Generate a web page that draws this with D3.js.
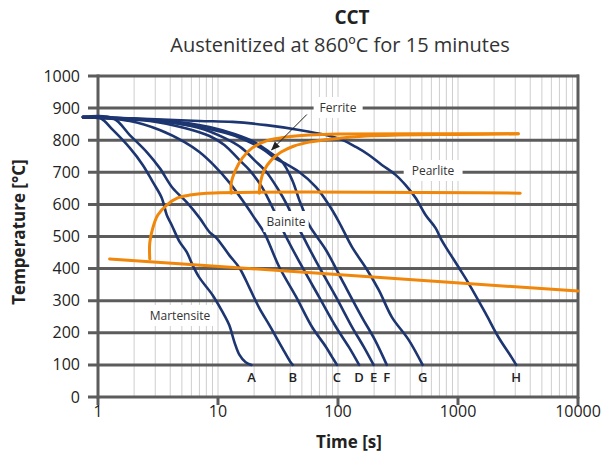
<!DOCTYPE html>
<html>
<head>
<meta charset="utf-8">
<script src="https://cdn.jsdelivr.net/npm/d3@7"></script>
<style>
  body { margin: 0; background: #fff; }
  text { font-family: "Open Sans", sans-serif; }
</style>
</head>
<body>
<svg width="602" height="459"></svg>
<script>
// cooling curves: [time s, temperature C]
const curveA = [[0.75,872],[1.04,869],[1.33,832],[1.84,776],[2.36,723],[2.86,670],[3.4,620],[3.74,567],[4.11,536],[4.79,483],[5.48,452],[6.14,411],[7.02,371],[9.0,318],[10.9,265],[12.4,224],[13.7,171],[15.1,131],[17,108],[19,100]];
const curveB = [[0.75,872],[1.33,869],[1.84,816],[2.55,763],[3.27,713],[4.19,651],[5.48,607],[7.02,558],[8.49,514],[9.72,495],[12.4,442],[15.1,402],[18.3,340],[22.1,277],[26.8,224],[34.3,153],[40,110],[42,100]];
const curveC = [[0.75,872],[1.84,860],[3.27,832],[5.27,794],[7.0,763],[9.35,720],[12.5,667],[16.6,604],[20.1,558],[24.3,511],[32.4,405],[44.8,312],[60.8,218],[79.4,156],[89.1,125],[98,100]];
const curveD = [[0.75,872],[2.7,860],[5.27,838],[8.5,813],[11.3,785],[15.1,738],[18.3,707],[23.0,657],[27.8,598],[32.4,545],[35.6,511],[50.3,405],[69.5,312],[96.2,218],[123,156],[150,100]];
const curveE = [[0.75,872],[3.27,860],[7.0,838],[11.3,807],[15.7,776],[20.1,738],[25.3,701],[31.2,651],[37.7,598],[43.1,551],[49.3,511],[66.9,417],[96.2,312],[131,218],[164,156],[198,100]];
const curveF = [[0.75,872],[3.96,860],[8.5,841],[13.7,819],[20.1,794],[26.8,763],[34.3,732],[41.5,676],[47.5,614],[52.2,576],[57.4,536],[79.4,458],[108,364],[158,249],[203,178],[255,100]];
const curveG = [[0.75,872],[2.7,863],[7.0,841],[13.2,816],[18.3,794],[24.3,769],[29.4,745],[35.6,729],[47.5,701],[65.6,654],[84.2,598],[102,545],[131,467],[171,402],[219,333],[281,249],[388,178],[507,100]];
const curveH = [[0.75,872],[2.7,866],[7.0,860],[13.2,857],[25.3,847],[47.5,832],[79.4,816],[108,801],[141,779],[181,754],[232,723],[302,692],[366,660],[444,620],[537,567],[651,526],[730,489],[1009,405],[1222,355],[1690,262],[2168,187],[2780,125],[3055,100]];
const curveNames = ['A','B','C','D','E','F','G','H'];

// transformation lines
const msLine = [[1.25,430],[10000,330]];
const bainiteStart = [[2.7,430],[2.7,480],[2.86,526],[3.15,567],[3.74,598],[4.61,620],[5.8,629],[8.03,635],[3300,635]];
const ferriteStart = [[12.9,635],[12.9,667],[14.0,707],[16.0,745],[19.3,776],[25.3,798],[37.0,810],[57.4,816],[102,819],[3180,820]];
const pearliteStart = [[22.1,635],[22.5,667],[24.3,707],[27.8,738],[33.6,763],[43.1,782],[57.4,794],[89.1,804],[171,813],[321,816],[1010,818],[3180,820]];

const yTicks = [0,100,200,300,400,500,600,700,800,900,1000];
const xTicks = [1,10,100,1000,10000];

const svg = d3.select('svg');
const x = d3.scaleLog().domain([1, 10000]).range([98, 578]);
const y = d3.scaleLinear().domain([0, 1000]).range([397, 76]);

// minor vertical grid
const minor = [];
for (let d = 1; d < 10000; d *= 10) {
  for (let k = 1; k <= 9; k++) if (d * k > 1) minor.push(d * k);
}
svg.append('g').selectAll('line')
  .data(minor)
  .enter().append('line')
  .attr('x1', d => x(d)).attr('x2', d => x(d))
  .attr('y1', y(1000)).attr('y2', y(0))
  .style('stroke', '#cecece').style('stroke-width', 1);

// horizontal grid
svg.append('g').selectAll('line')
  .data(yTicks)
  .enter().append('line')
  .attr('x1', 88).attr('x2', 579)
  .attr('y1', d => y(d)).attr('y2', d => y(d))
  .style('stroke', '#5c5c5c').style('stroke-width', 3);

// axes frame
svg.append('line').attr('x1', x(1)).attr('x2', x(1)).attr('y1', y(1000) - 1.5).attr('y2', y(0) + 1.5)
  .style('stroke', '#5c5c5c').style('stroke-width', 3);
svg.append('line').attr('x1', x(10000)).attr('x2', x(10000)).attr('y1', y(1000) - 1.5).attr('y2', y(0) + 1.5)
  .style('stroke', '#5c5c5c').style('stroke-width', 3);
svg.append('g').selectAll('line')
  .data(xTicks)
  .enter().append('line')
  .attr('x1', d => x(d)).attr('x2', d => x(d))
  .attr('y1', y(0)).attr('y2', y(0) + 8)
  .style('stroke', '#5c5c5c').style('stroke-width', 3);

// tick labels
svg.append('g').selectAll('text')
  .data(yTicks)
  .enter().append('text')
  .attr('x', 80).attr('y', d => y(d) + 5.5)
  .attr('text-anchor', 'end')
  .style('font-size', '16px').style('fill', '#222')
  .text(d => d);
svg.append('g').selectAll('text')
  .data(xTicks)
  .enter().append('text')
  .attr('x', d => x(d)).attr('y', 417)
  .attr('text-anchor', 'middle')
  .style('font-size', '16px').style('fill', '#222')
  .text(d => d);

// labels with white box
function boxLabel(txt, cx, cy, pad) {
  const g = svg.append('g');
  const r = g.append('rect').style('fill', '#fff');
  const t = g.append('text').attr('x', cx).attr('y', cy + 4)
    .attr('text-anchor', 'middle')
    .style('font-size', '12px').style('fill', '#333')
    .text(txt);
  const b = t.node().getBBox();
  r.attr('x', b.x - pad).attr('y', b.y - 2).attr('width', b.width + pad * 2).attr('height', b.height + 4);
}

const line = d3.line()
  .x(d => x(d[0]))
  .y(d => y(d[1]))
  .curve(d3.curveCatmullRom.alpha(0.5));

// cooling curves
const curves = [curveA, curveB, curveC, curveD, curveE, curveF, curveG, curveH];
svg.append('g').selectAll('path')
  .data(curves)
  .enter().append('path')
  .attr('d', line)
  .style('fill', 'none')
  .style('stroke', '#1d3570')
  .style('stroke-width', 2.6)
  .style('stroke-linejoin', 'round')
  .style('stroke-linecap', 'round');

// transformation lines
svg.append('g').selectAll('path')
  .data([msLine, bainiteStart, ferriteStart, pearliteStart])
  .enter().append('path')
  .attr('d', line)
  .style('fill', 'none')
  .style('stroke', '#f0860a')
  .style('stroke-width', 3)
  .style('stroke-linecap', 'round');

boxLabel('Ferrite', 338, 108, 6);
boxLabel('Pearlite', 433, 171, 8);
boxLabel('Bainite', 286, 222, 3);
boxLabel('Martensite', 180, 316, 5);

// arrow to ferrite
svg.append('defs').append('marker')
  .attr('id', 'arr').attr('viewBox', '0 0 10 10')
  .attr('refX', 9).attr('refY', 5)
  .attr('markerWidth', 9).attr('markerHeight', 9)
  .attr('orient', 'auto')
  .append('path').attr('d', 'M0,1 L10,5 L0,9 Z').style('fill', '#222');
svg.append('line')
  .attr('x1', x(55)).attr('y1', y(880))
  .attr('x2', x(28)).attr('y2', y(770))
  .attr('marker-end', 'url(#arr)')
  .style('stroke', '#222').style('stroke-width', 1);

// curve letters
svg.append('g').selectAll('text')
  .data(curves)
  .enter().append('text')
  .attr('x', d => x(d[d.length - 1][0]))
  .attr('y', 382)
  .attr('text-anchor', 'middle')
  .style('font-size', '13px').style('font-weight', 600).style('fill', '#222')
  .text((d, i) => curveNames[i]);

// titles
svg.append('text').attr('x', 352).attr('y', 24).attr('text-anchor', 'middle')
  .style('font-size', '19px').style('font-weight', 'bold').style('fill', '#222')
  .text('CCT');
svg.append('text').attr('x', 340).attr('y', 52).attr('text-anchor', 'middle')
  .style('font-size', '20px').style('fill', '#333')
  .text('Austenitized at 860ºC for 15 minutes');
svg.append('text').attr('x', 349).attr('y', 448).attr('text-anchor', 'middle')
  .style('font-size', '17px').style('font-weight', 'bold').style('fill', '#222')
  .text('Time [s]');
svg.append('text')
  .attr('transform', 'translate(25,232) rotate(-90)')
  .attr('text-anchor', 'middle')
  .style('font-size', '17px').style('font-weight', 'bold').style('fill', '#222')
  .text('Temperature [°C]');
</script>
</body>
</html>
